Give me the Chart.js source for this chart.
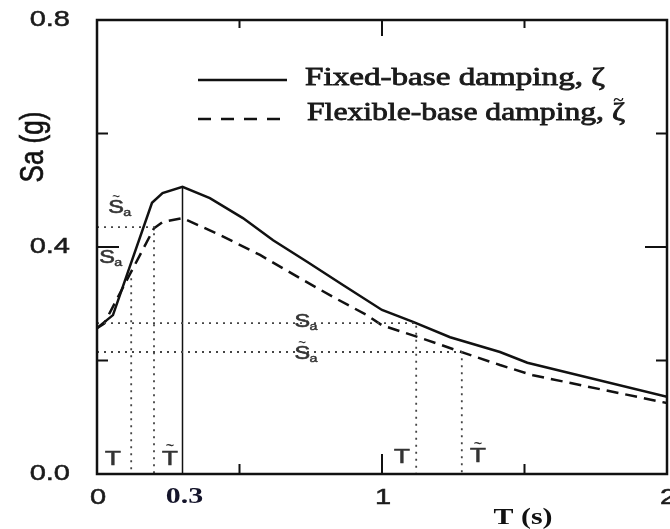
<!DOCTYPE html>
<html>
<head>
<meta charset="utf-8">
<script src="https://cdn.jsdelivr.net/npm/chart.js@4.4.0/dist/chart.umd.min.js"></script>
<style>
  html, body { margin: 0; padding: 0; background: #fff; }
  canvas { display: block; }
</style>
</head>
<body>
<canvas id="spectrumChart" width="670" height="529"></canvas>
<script>
// fixed-base spectrum (solid line)
const fixedT  = [0, 0.056, 0.193, 0.23, 0.3, 0.396, 0.512, 0.618, 0.737, 0.863, 1.0, 1.109, 1.239, 1.414, 1.51, 2.0];
const fixedSa = [0.257, 0.28, 0.478, 0.495, 0.506, 0.486, 0.451, 0.412, 0.374, 0.333, 0.289, 0.268, 0.241, 0.215, 0.196, 0.136];

// flexible-base spectrum (dashed line)
const flexT  = [0, 0.025, 0.105, 0.2, 0.23, 0.3, 0.432, 0.572, 0.712, 0.828, 0.947, 1.0, 1.158, 1.29, 1.414, 1.53, 2.0];
const flexSa = [0.257, 0.265, 0.342, 0.433, 0.444, 0.451, 0.421, 0.386, 0.345, 0.312, 0.28, 0.262, 0.236, 0.213, 0.192, 0.174, 0.125];

// dotted guide lines: period, Sa, and whether a horizontal line goes back to the axis
const guideT  = [0.12, 0.2, 1.12, 1.28];
const guideSa = [0.345, 0.435, 0.266, 0.215];
const guideH  = [false, true, true, true];
const peakT = 0.3;

const xTicks = [0, 0.5, 1, 1.5, 2];
const xTickLabels = ["0", "", "1", "", "2"];
const yTicks = [0, 0.2, 0.4, 0.6, 0.8];
const yTickLabels = ["0.0", "", "0.4", "", "0.8"];
const legendLabels = ["Fixed-base damping, \u03B6", "Flexible-base damping, \u03B6\u0303"];

function toPoints(xs, ys) {
  return xs.map((x, i) => ({ x: x, y: ys[i] }));
}

const guideSets = guideT.map((t, i) => {
  const pts = guideH[i] ? [{ x: 0, y: guideSa[i] }] : [];
  pts.push({ x: t, y: guideSa[i] }, { x: t, y: 0 });
  return {
    data: pts,
    borderColor: "#444",
    borderWidth: 1.8,
    borderDash: [2, 5],
    pointRadius: 0,
    showLine: true,
  };
});

const peakSa = fixedSa[fixedT.indexOf(peakT)];

// draw text stretched horizontally (the picture is wider than it should be)
function stretchText(ctx, text, x, y, sx, align, stroke) {
  ctx.save();
  ctx.translate(x, y);
  ctx.scale(sx, 1);
  ctx.textAlign = align;
  if (stroke) {
    ctx.lineWidth = stroke;
    ctx.strokeStyle = ctx.fillStyle;
    ctx.strokeText(text, 0, 0);
  }
  ctx.fillText(text, 0, 0);
  ctx.restore();
}

function symbolLabel(ctx, letter, sub, x, y, size, tilde) {
  ctx.fillStyle = "#333";
  ctx.textBaseline = "middle";
  ctx.font = size + "px 'Liberation Sans'";
  stretchText(ctx, letter, x, y, 1.3, "center", 0.6);
  if (tilde) {
    ctx.font = "bold " + Math.round(size * 0.6) + "px 'Liberation Sans'";
    stretchText(ctx, "~", x, y - size * 0.62, 1.2, "center");
  }
  if (sub) {
    ctx.font = Math.round(size * 0.62) + "px 'Liberation Sans'";
    stretchText(ctx, sub, x + size * 0.62, y + size * 0.28, 1.3, "center", 0.4);
  }
}

const framePlugin = {
  id: "frame",
  afterDatasetsDraw(chart) {
    const ctx = chart.ctx;
    const xs = chart.scales.x;
    const ys = chart.scales.y;
    const a = chart.chartArea;
    ctx.save();

    // box
    ctx.strokeStyle = "#111";
    ctx.lineWidth = 2.5;
    ctx.strokeRect(a.left, a.top, a.right - a.left, a.bottom - a.top);

    // inward ticks
    ctx.lineWidth = 2;
    xTicks.forEach((v, i) => {
      const px = xs.getPixelForValue(v);
      const len = xTickLabels[i] ? 20 : 10;
      ctx.beginPath();
      ctx.moveTo(px, a.bottom); ctx.lineTo(px, a.bottom - len);
      ctx.moveTo(px, a.top); ctx.lineTo(px, a.top + len * 0.8);
      ctx.stroke();
    });
    yTicks.forEach((v, i) => {
      const py = ys.getPixelForValue(v);
      const len = yTickLabels[i] ? 22 : 11;
      ctx.beginPath();
      ctx.moveTo(a.left, py); ctx.lineTo(a.left + len, py);
      ctx.moveTo(a.right, py); ctx.lineTo(a.right - len, py);
      ctx.stroke();
    });

    // tick labels
    ctx.fillStyle = "#1a1a1a";
    ctx.textBaseline = "middle";
    ctx.font = "22px 'Liberation Sans'";
    yTicks.forEach((v, i) => {
      if (yTickLabels[i]) stretchText(ctx, yTickLabels[i], 70, ys.getPixelForValue(v), 1.32, "right", 0.5);
    });
    xTicks.forEach((v, i) => {
      if (xTickLabels[i]) stretchText(ctx, xTickLabels[i], xs.getPixelForValue(v) + 1, a.bottom + 24, 1.32, "center", 0.5);
    });
    ctx.fillStyle = "#14142a";
    ctx.font = "bold 23px 'Liberation Serif'";
    stretchText(ctx, "0.3", xs.getPixelForValue(peakT) + 2, a.bottom + 23, 1.3, "center");

    // axis titles
    ctx.fillStyle = "#111";
    stretchText(ctx, "T (s)", 523, 518, 1.3, "center");
    ctx.save();
    ctx.translate(34, 147);
    ctx.rotate(-Math.PI / 2);
    ctx.scale(1, 1.3);
    ctx.font = "26px 'Liberation Sans'";
    ctx.textAlign = "center";
    ctx.lineWidth = 0.5;
    ctx.strokeStyle = "#111";
    ctx.strokeText("Sa (g)", 0, 0);
    ctx.fillText("Sa (g)", 0, 0);
    ctx.restore();

    // symbols next to the guide lines
    symbolLabel(ctx, "S", "a", xs.getPixelForValue(0.067), ys.getPixelForValue(0.469), 18, true);
    symbolLabel(ctx, "S", "a", xs.getPixelForValue(0.035), ys.getPixelForValue(0.38), 18, false);
    symbolLabel(ctx, "S", "a", xs.getPixelForValue(0.72), ys.getPixelForValue(0.268), 18, false);
    symbolLabel(ctx, "S", "a", xs.getPixelForValue(0.72), ys.getPixelForValue(0.212), 18, true);
    symbolLabel(ctx, "T", "", xs.getPixelForValue(0.056), ys.getPixelForValue(0.026), 20, false);
    symbolLabel(ctx, "T", "", xs.getPixelForValue(0.256), ys.getPixelForValue(0.026), 20, true);
    symbolLabel(ctx, "T", "", xs.getPixelForValue(1.07), ys.getPixelForValue(0.029), 20, false);
    symbolLabel(ctx, "T", "", xs.getPixelForValue(1.337), ys.getPixelForValue(0.03), 20, true);

    // legend
    ctx.strokeStyle = "#111";
    ctx.lineWidth = 2.5;
    ctx.beginPath();
    ctx.moveTo(198, 80); ctx.lineTo(287, 80);
    ctx.stroke();
    ctx.setLineDash([13, 10]);
    ctx.beginPath();
    ctx.moveTo(198, 119); ctx.lineTo(290, 119);
    ctx.stroke();
    ctx.setLineDash([]);
    ctx.fillStyle = "#1a1a1a";
    ctx.textBaseline = "alphabetic";
    ctx.font = "25px 'Liberation Serif'";
    const legendX = [305, 307];
    const legendY = [85, 120];
    const legendW = [300, 318];
    legendLabels.forEach((lab, i) => {
      const hasTilde = lab.indexOf("\u0303") >= 0;
      const txt = lab.replace("\u0303", "");
      const sx = legendW[i] / ctx.measureText(txt).width;
      stretchText(ctx, txt, legendX[i], legendY[i], sx, "left", 0.8);
      if (hasTilde) {
        const zw = ctx.measureText("\u03B6").width * sx;
        ctx.save();
        ctx.font = "bold 16px 'Liberation Serif'";
        stretchText(ctx, "~", legendX[i] + legendW[i] - zw / 2, legendY[i] - 15, 1.2, "center");
        ctx.restore();
      }
    });

    ctx.restore();
  },
};

const chart = new Chart(document.getElementById("spectrumChart"), {
  type: "scatter",
  data: {
    datasets: [
      ...guideSets,
      {
        data: [{ x: peakT, y: peakSa }, { x: peakT, y: 0 }],
        borderColor: "#111",
        borderWidth: 1.5,
        pointRadius: 0,
        showLine: true,
      },
      {
        label: legendLabels[1],
        data: toPoints(flexT, flexSa),
        borderColor: "#111",
        borderWidth: 2.5,
        borderDash: [12, 7],
        pointRadius: 0,
        showLine: true,
      },
      {
        label: legendLabels[0],
        data: toPoints(fixedT, fixedSa),
        borderColor: "#111",
        borderWidth: 2.5,
        pointRadius: 0,
        showLine: true,
      },
    ],
  },
  options: {
    responsive: false,
    animation: false,
    devicePixelRatio: 1,
    events: [],
    layout: { padding: { left: 97, right: 3, top: 20, bottom: 55 } },
    plugins: {
      legend: { display: false },
      tooltip: { enabled: false },
    },
    scales: {
      x: { type: "linear", min: 0, max: 2, display: false },
      y: { type: "linear", min: 0, max: 0.8, display: false },
    },
  },
  plugins: [framePlugin],
});
</script>
</body>
</html>
